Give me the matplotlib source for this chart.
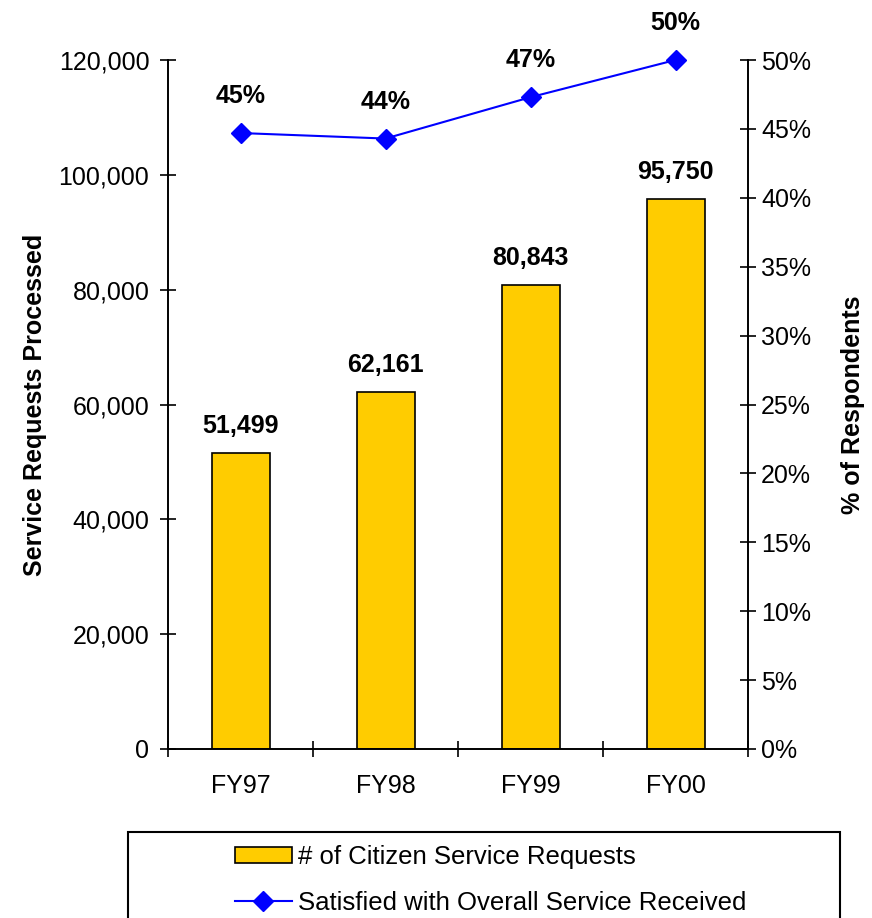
import matplotlib.pyplot as plt
from matplotlib.patches import Rectangle
from matplotlib.lines import Line2D
import numpy as np

# Data
years = ['FY97', 'FY98', 'FY99', 'FY00']
requests = [51499, 62161, 80843, 95750]
satisfied = [44.7, 44.3, 47.3, 50.0]  # % of respondents

plt.rcParams['font.family'] = ['Liberation Sans', 'DejaVu Sans']
fs = 18

fig = plt.figure(figsize=(8.72, 9.18), dpi=100)
ax = fig.add_axes([168 / 872, 1 - 749 / 918, 580 / 872, 689 / 918])
ax2 = ax.twinx()

x = np.arange(len(years))
bar_color = '#FFCC00'
line_color = '#0000FF'

ax.bar(x, requests, width=0.4, color=bar_color, edgecolor='black', linewidth=1.2, zorder=2)
for xi, v in zip(x, requests):
    ax.annotate(f'{v:,}', (xi, v), xytext=(0, 11), textcoords='offset points',
                ha='center', va='bottom', fontsize=fs, fontweight='bold')

ax2.plot(x, satisfied, color=line_color, lw=1.5, marker='D', markersize=10, zorder=3, clip_on=False)
for xi, v in zip(x, satisfied):
    ax2.annotate(f'{v:.0f}%', (xi, v), xytext=(0, 18), textcoords='offset points',
                 ha='center', va='bottom', fontsize=fs, fontweight='bold', annotation_clip=False)

ax.set_xlim(-0.5, 3.5)
ax.set_ylim(0, 120000)
ax2.set_ylim(0, 50)
ax.set_yticks(np.arange(0, 120001, 20000))
ax.set_yticklabels([f'{v:,}' for v in range(0, 120001, 20000)])
ax2.set_yticks(np.arange(0, 51, 5))
ax2.set_yticklabels([f'{v}%' for v in range(0, 51, 5)])

# category boundaries as major ticks, labels at the centres
ax.set_xticks(np.arange(-0.5, 4, 1))
ax.set_xticklabels([])
ax.set_xticks(x, minor=True)
ax.set_xticklabels(years, minor=True)
ax.tick_params(axis='x', which='minor', length=0, pad=18, labelsize=fs)
ax.tick_params(axis='x', which='major', direction='inout', length=11, width=1.2)
ax.tick_params(axis='y', direction='inout', length=11, width=1.2, pad=8, labelsize=fs)
ax2.tick_params(axis='y', direction='inout', length=11, width=1.2, pad=4, labelsize=fs)

for a in (ax, ax2):
    a.spines['top'].set_visible(False)
    for s in ('left', 'right', 'bottom'):
        a.spines[s].set_linewidth(1.2)

ax.set_ylabel('Service Requests Processed', fontsize=fs, fontweight='bold')
ax.yaxis.set_label_coords((47 - 168) / 580, 0.5)
ax2.set_ylabel('% of Respondents', fontsize=fs, fontweight='bold', rotation=90)
ax2.yaxis.set_label_coords((841 - 168) / 580, 0.5)

# legend box at the bottom
fig.patches.append(Rectangle((128 / 872, -0.02), (840 - 128) / 872, (918 - 832) / 918 + 0.02,
                             transform=fig.transFigure, fill=False, edgecolor='black', lw=1.5))
handles = [
    Rectangle((0, 0), 1, 1, facecolor=bar_color, edgecolor='black', lw=1.2),
    Line2D([], [], color=line_color, lw=1.5, marker='D', markersize=10),
]
labels = ['# of Citizen Service Requests', 'Satisfied with Overall Service Received']
fig.legend(handles, labels, loc='upper left', bbox_to_anchor=(235 / 872, 1 - 845 / 918),
           frameon=False, fontsize=18.5, handlelength=2.2, handleheight=0.6, handletextpad=0.25,
           labelspacing=0.85, borderaxespad=0, borderpad=0)

fig.savefig('out.png', dpi=100)
